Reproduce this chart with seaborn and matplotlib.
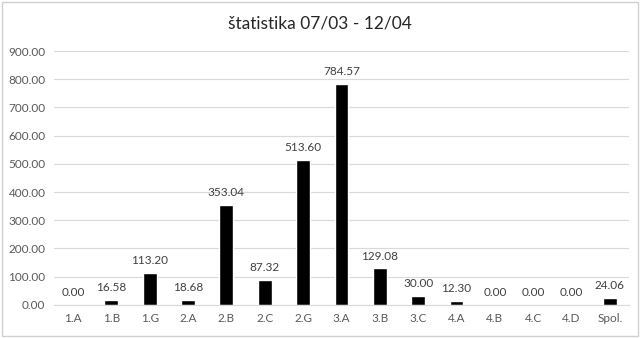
import pandas as pd
import seaborn as sns
import matplotlib.pyplot as plt
from matplotlib.ticker import FormatStrFormatter
from matplotlib.patches import Rectangle

# podatki
razredi = ["1.A", "1.B", "1.G", "2.A", "2.B", "2.C", "2.G", "3.A", "3.B", "3.C",
           "4.A", "4.B", "4.C", "4.D", "Spol."]
vrednosti = [0.00, 16.58, 113.20, 18.68, 353.04, 87.32, 513.60, 784.57, 129.08,
             30.00, 12.30, 0.00, 0.00, 0.00, 24.06]
y_ticks = [0, 100, 200, 300, 400, 500, 600, 700, 800, 900]

df = pd.DataFrame({"razred": razredi, "vrednost": vrednosti})

sns.set_style("white")
plt.rcParams["font.family"] = ["Lato", "DejaVu Sans"]

fig = plt.figure(figsize=(6.4, 3.38), dpi=100)
ax = fig.add_axes([0.084, 0.098, 0.899, 0.751])

sns.barplot(data=df, x="razred", y="vrednost", color="black", width=0.36,
            saturation=1, ax=ax)

ax.bar_label(ax.containers[0], fmt="%.2f", padding=5, fontsize=8.5, color="#404040")

ax.set_ylim(0, 900)
ax.set_yticks(y_ticks)
ax.yaxis.set_major_formatter(FormatStrFormatter("%.2f"))
ax.grid(axis="y", color="#d9d9d9", linewidth=0.8)
ax.set_axisbelow(True)
for s in ["left", "right", "top"]:
    ax.spines[s].set_visible(False)
ax.spines["bottom"].set_color("#d9d9d9")
ax.tick_params(axis="both", length=0, labelsize=8.5, labelcolor="#595959", pad=6)
ax.set_xlabel("")
ax.set_ylabel("")

fig.suptitle("štatistika 07/03 - 12/04", y=0.955, fontsize=12.5, color="#262626")

# okvir okoli slike
fig.patches.append(Rectangle((0.003, 0.005), 0.994, 0.99, transform=fig.transFigure,
                             fill=False, edgecolor="#d0d0d0", linewidth=1))

fig.savefig("out.png", dpi=100)
